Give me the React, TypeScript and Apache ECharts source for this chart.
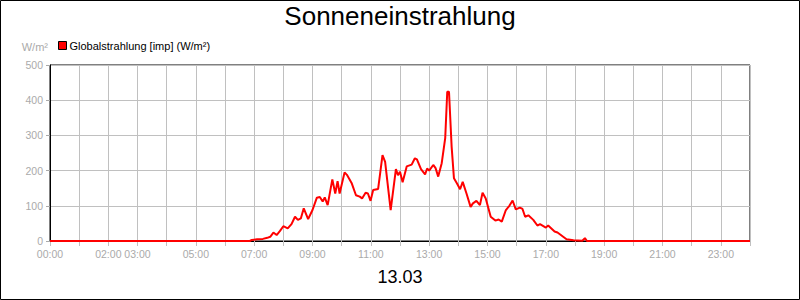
import React, { useEffect, useRef } from "react";
import * as echarts from "echarts";

const chartTitle = "Sonneneinstrahlung";
const dateLabel = "13.03";
const seriesName = "Globalstrahlung [imp] (W/m²)";
const yUnit = "W/m²";
const shownHours = [0, 2, 3, 5, 7, 9, 11, 13, 15, 17, 19, 21, 23];

// time of day in hours
const times = [
  0, 6.85, 6.92, 7.1, 7.3, 7.45, 7.55, 7.66, 7.77, 7.88, 8.0, 8.15, 8.28, 8.4, 8.5, 8.6, 8.7, 8.85,
  9.0, 9.15, 9.25, 9.35, 9.42, 9.52, 9.68, 9.78, 9.86, 9.93, 10.1, 10.18, 10.34, 10.49, 10.62, 10.7,
  10.82, 10.9, 10.99, 11.08, 11.25, 11.4, 11.49, 11.68, 11.86, 11.93, 12.0, 12.09, 12.23, 12.4, 12.51,
  12.58, 12.72, 12.86, 12.93, 13.0, 13.14, 13.22, 13.31, 13.43, 13.55, 13.62, 13.68, 13.77, 13.85,
  13.95, 14.06, 14.15, 14.28, 14.42, 14.5, 14.62, 14.74, 14.83, 14.94, 15.11, 15.27, 15.38, 15.49,
  15.63, 15.75, 15.86, 15.97, 16.11, 16.2, 16.29, 16.4, 16.57, 16.71, 16.8, 17.0, 17.08, 17.3, 17.4,
  17.71, 17.95, 18.25, 18.34, 18.41, 24,
];
// global radiation W/m²
const values = [
  0, 0, 3, 5, 6, 9, 12, 24, 17, 28, 42, 36, 48, 69, 60, 64, 93, 62,
  88, 123, 125, 112, 124, 102, 175, 135, 170, 135, 195, 188, 165, 130, 126, 121,
  137, 135, 114, 145, 148, 244, 225, 88, 204, 187, 197, 167, 212, 217, 235,
  232, 204, 189, 206, 200, 216, 207, 183, 221, 292, 424, 424, 268, 178,
  164, 147, 168, 135, 97, 107, 114, 102, 137, 121, 69, 58, 61, 55,
  88, 100, 115, 90, 95, 91, 69, 73, 60, 44, 48, 38, 44, 27, 24,
  5, 2, 1, 8, 0, 0,
];

const FONT = "'Liberation Sans', Arial, sans-serif";
const LABEL_GRAY = "#aaaaaa";
const GRID_GRAY = "#c0c0c0";

export default function App() {
  const ref = useRef<HTMLDivElement>(null);
  useEffect(() => {
    if (!ref.current) return;
    const chart = echarts.init(ref.current, undefined, { renderer: "svg" });
    const data = times.map((t, i) => [t, values[i]]);
    chart.setOption({
      animation: false,
      backgroundColor: "#ffffff",
      textStyle: { fontFamily: FONT },
      title: [
        {
          text: chartTitle,
          left: "center",
          top: 3,
          padding: 0,
          textStyle: { fontSize: 26, fontWeight: "normal", color: "#000", fontFamily: FONT },
        },
        {
          text: dateLabel,
          left: "center",
          top: 268,
          padding: 0,
          textStyle: { fontSize: 18, fontWeight: "normal", color: "#000", fontFamily: FONT },
        },
      ],
      legend: {
        left: 58,
        top: 40,
        padding: 0,
        itemWidth: 8,
        itemHeight: 8,
        data: [
          {
            name: seriesName,
            icon: "rect",
            itemStyle: { color: "#ff0000", borderColor: "#000", borderWidth: 1 },
          },
        ],
        textStyle: { fontSize: 11, color: "#000", fontFamily: FONT, padding: [0, 0, 0, -2] },
      },
      grid: {
        left: 50,
        right: 50,
        top: 65,
        bottom: 59,
        show: true,
        borderColor: "#000",
        borderWidth: 1,
        containLabel: false,
      },
      xAxis: {
        type: "value",
        min: 0,
        max: 24,
        interval: 1,
        axisLine: { show: true, lineStyle: { color: "#000", width: 1 } },
        axisTick: { show: true, length: 5, lineStyle: { color: GRID_GRAY } },
        splitLine: { show: true, lineStyle: { color: GRID_GRAY, width: 1 } },
        axisLabel: {
          color: LABEL_GRAY,
          fontSize: 10.5,
          fontFamily: FONT,
          margin: 7,
          showMaxLabel: true,
          formatter: (v: number) =>
            shownHours.indexOf(v) >= 0 ? String(v).padStart(2, "0") + ":00" : "",
        },
      },
      yAxis: {
        type: "value",
        min: 0,
        max: 500,
        interval: 100,
        name: yUnit,
        nameLocation: "end",
        nameGap: 18,
        nameTextStyle: {
          color: LABEL_GRAY,
          fontSize: 11,
          fontFamily: FONT,
          align: "right",
          verticalAlign: "middle",
          padding: [0, 2, 0, 0],
        },
        axisLine: { show: true, lineStyle: { color: "#000", width: 1 } },
        axisTick: { show: true, length: 4, lineStyle: { color: LABEL_GRAY } },
        splitLine: { show: true, lineStyle: { color: GRID_GRAY, width: 1 } },
        axisLabel: { color: LABEL_GRAY, fontSize: 10.5, fontFamily: FONT, margin: 7 },
      },
      series: [
        {
          name: seriesName,
          type: "line",
          data,
          showSymbol: false,
          symbol: "none",
          lineStyle: { color: "#ff0000", width: 2 },
          itemStyle: { color: "#ff0000" },
          z: 5,
        },
      ],
      graphic: [
        {
          type: "rect",
          shape: { x: 0.5, y: 0.5, width: 799, height: 299 },
          style: { fill: "none", stroke: "#000", lineWidth: 1 },
          silent: true,
          z: 100,
        },
      ],
    });
    return () => chart.dispose();
  }, []);
  return (
    <div
      ref={ref}
      style={{ position: "fixed", left: 0, top: 0, width: 800, height: 300 }}
    />
  );
}
